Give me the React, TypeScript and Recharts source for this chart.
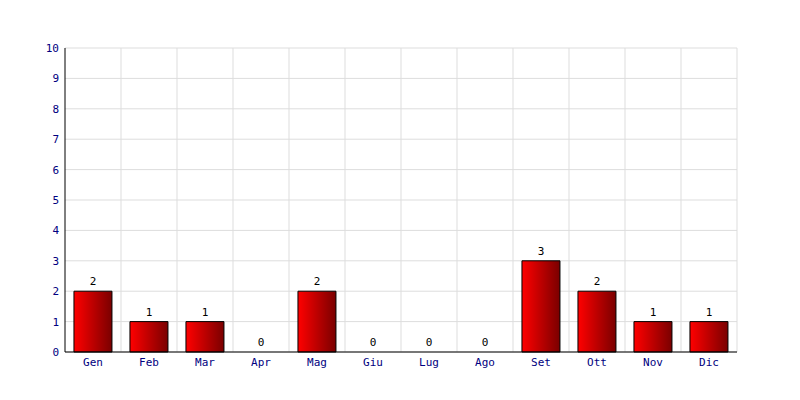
import { ComposedChart, Bar, Line, XAxis, YAxis, CartesianGrid, LabelList } from "recharts";

const months = ["Gen", "Feb", "Mar", "Apr", "Mag", "Giu", "Lug", "Ago", "Set", "Ott", "Nov", "Dic"];
const counts = [2, 1, 1, 0, 2, 0, 0, 0, 3, 2, 1, 1];
const yTicks = [0, 1, 2, 3, 4, 5, 6, 7, 8, 9, 10];

const data = months.map((m, i) => ({ month: m, value: counts[i] }));

const font = "'DejaVu Sans Mono', monospace";

export default function App() {
  return (
    <div style={{ position: "absolute", left: 0, top: 0, width: 800, height: 400, background: "#fff" }}>
      <ComposedChart
        width={800}
        height={400}
        data={data}
        margin={{ top: 48, right: 63, bottom: 18, left: 35 }}
        barCategoryGap="16%"
      >
        <defs>
          <linearGradient id="barFill" x1="0" y1="0" x2="1" y2="0">
            <stop offset="0%" stopColor="#ff0000" />
            <stop offset="100%" stopColor="#7a0000" />
          </linearGradient>
        </defs>
        <CartesianGrid
          stroke="#dddddd"
          verticalCoordinatesGenerator={({ offset }: any) =>
            months.map((_, i) => offset.left + ((i + 1) * offset.width) / months.length)
          }
        />
        <XAxis
          dataKey="month"
          height={30}
          axisLine={{ stroke: "#000" }}
          tickLine={false}
          tickSize={4}
          tickMargin={2}
          tick={{ fill: "#000080", fontSize: 11, fontFamily: font }}
        />
        <YAxis
          width={30}
          domain={[0, 10]}
          ticks={yTicks}
          interval={0}
          axisLine={{ stroke: "#000" }}
          tickLine={false}
          tickSize={4}
          tickMargin={2}
          tick={{ fill: "#000080", fontSize: 11, fontFamily: font }}
        />
        <Bar dataKey="value" fill="url(#barFill)" stroke="#000" strokeWidth={1} isAnimationActive={false} />
        {/* invisible line just to carry the value labels, so zeros get one too */}
        <Line
          dataKey="value"
          stroke="none"
          dot={false}
          activeDot={false}
          isAnimationActive={false}
        >
          <LabelList
            dataKey="value"
            position="top"
            offset={6}
            style={{ fill: "#000", fontSize: 11, fontFamily: font }}
          />
        </Line>
      </ComposedChart>
    </div>
  );
}
